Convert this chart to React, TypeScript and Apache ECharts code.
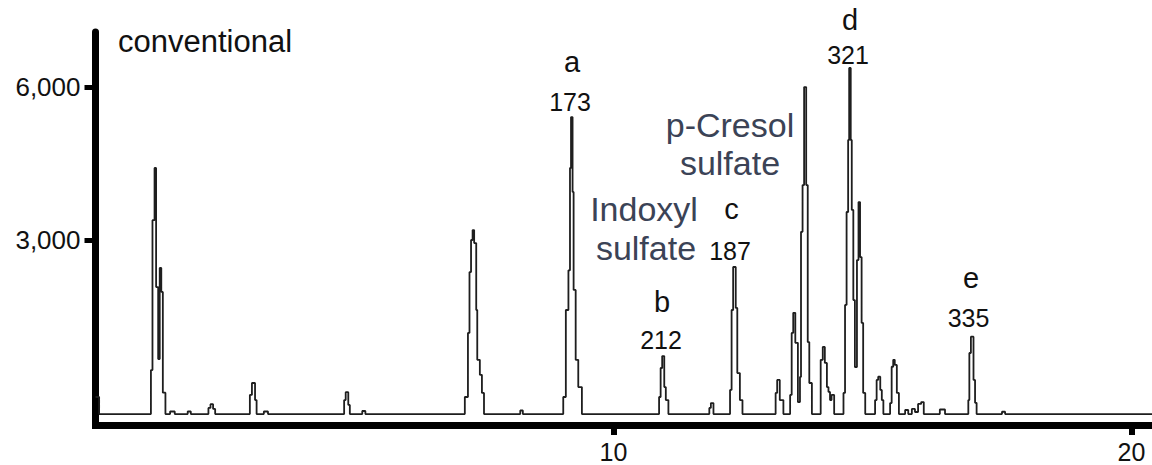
import React, { useEffect, useRef } from "react";
import * as echarts from "echarts";

// Retention time (min) and detector signal
const retentionTime = [
  0.0, 0.07, 1.07, 1.1, 1.14, 1.17, 1.21, 1.24, 1.27, 1.3, 1.35, 1.44, 1.53, 1.78, 1.84,
  2.18, 2.22, 2.27, 2.31, 2.98, 3.02, 3.08, 3.11, 3.25, 3.33, 4.8, 4.83, 4.88, 4.91, 5.15, 5.21,
  7.13, 7.19, 7.22, 7.25, 7.28, 7.31, 7.35, 7.37, 7.42, 7.46, 7.5, 8.2, 8.25,
  9.03, 9.08, 9.13, 9.16, 9.18, 9.21, 9.23, 9.27, 9.32, 9.39,
  10.88, 10.91, 10.94, 10.98, 11.01, 11.06, 11.85, 11.88, 11.93,
  12.25, 12.28, 12.31, 12.36, 12.39, 12.44, 12.49,
  13.13, 13.16, 13.21, 13.28, 13.41, 13.44, 13.47, 13.51, 13.56,
  13.6, 13.62, 13.65, 13.68, 13.72, 13.75, 13.78, 13.83,
  14.0, 14.04, 14.08, 14.12, 14.15, 14.18, 14.21, 14.26,
  14.44, 14.47, 14.5, 14.53, 14.55, 14.58, 14.6, 14.63, 14.66, 14.7, 14.73, 14.76, 14.79, 14.82, 14.86,
  15.05, 15.08, 15.11, 15.15, 15.18, 15.21, 15.34, 15.37, 15.4, 15.43, 15.47, 15.51,
  15.63, 15.69, 15.76, 15.82, 15.88, 15.94, 15.99, 16.3, 16.4,
  16.85, 16.87, 16.9, 16.95, 16.98, 17.01, 17.5, 17.56, 20.4,
];
const signal = [
  -85, -420, 445, 3390, 4415, 2075, 660, 2450, 1980, 0, -420, -370, -420, -370, -420,
  -300, -225, -320, -420, -45, 190, -145, -420, -370, -420, -145, 10, -240, -420, -360, -420,
  -85, 1175, 2370, 3000, 3195, 2940, 1625, 645, 350, -5, -420, -350, -420,
  -85, 1625, 2405, 4415, 5415, 3945, 2020, 645, 110, -420,
  -85, 485, 720, 110, -145, -420, -300, -205, -420,
  55, 1625, 2470, 1665, 385, -145, -420,
  -5, 250, -145, -420, -45, 1175, 1570, 980, -185,
  310, 3160, 4080, 6005, 4080, 995, 190, -420,
  645, 900, 585, 110, 15, -145, -45, -420,
  -5, 1725, 3550, 4965, 6380, 4965, 3590, 1820, 505, 2605, 3745, 2665, 1370, -5, -420,
  -145, 250, 315, 55, -145, -420, -205, 510, 645, 545, -5, -420,
  -340, -420, -320, -380, -220, -185, -420, -330, -420,
  -145, 780, 1100, 250, -200, -420, -375, -420, -420,
];

const xTickValues = [10, 20];
const yTickValues = [3000, 6000];
const panelTitle = "conventional";
const peakLetters = ["a", "b", "c", "d", "e"];
const peakMasses = ["173", "212", "187", "321", "335"];
const indoxylLines = ["Indoxyl", "sulfate"];
const cresolLines = ["p-Cresol", "sulfate"];

const FONT = "'Liberation Sans', Arial, Helvetica, sans-serif";

export default function App() {
  const ref = useRef<HTMLDivElement>(null);

  useEffect(() => {
    if (!ref.current) return;
    const chart = echarts.init(ref.current, null, { renderer: "svg" });
    const data = retentionTime.map((t, i) => [t, signal[i]]);

    const txt = (text: string, x: number, y: number, fontSize: number, fill: string, align = "center") => ({
      type: "text",
      x,
      y,
      silent: true,
      style: {
        text,
        fontSize,
        fontFamily: FONT,
        fill,
        align,
        verticalAlign: "middle",
        textAlign: align,
        textVerticalAlign: "middle",
      },
    });

    const letterPos = [
      [572, 61.7],
      [662, 301.6],
      [731.5, 209.1],
      [850, 20],
      [971, 278.3],
    ];
    const massPos = [
      [570, 102],
      [661, 339.7],
      [730, 251.1],
      [848, 54.7],
      [968.5, 318],
    ];
    const black = "#111111";
    const blueGray = "#3b4356";

    const graphics: any[] = [txt(panelTitle, 118, 41.6, 31, black, "left")];
    peakLetters.forEach((l, i) => graphics.push(txt(l, letterPos[i][0], letterPos[i][1], 29, black)));
    peakMasses.forEach((m, i) => graphics.push(txt(m, massPos[i][0], massPos[i][1], 25, black)));
    graphics.push(txt(indoxylLines[0], 644, 209.2, 34, blueGray));
    graphics.push(txt(indoxylLines[1], 646, 247.7, 34, blueGray));
    graphics.push(txt(cresolLines[0], 730, 124.9, 34, blueGray));
    graphics.push(txt(cresolLines[1], 730, 163.2, 34, blueGray));

    chart.setOption({
      animation: false,
      backgroundColor: "#ffffff",
      grid: {
        left: 95.5,
        right: 0,
        top: 32,
        bottom: 40,
        containLabel: false,
        outerBoundsMode: "none",
      },
      xAxis: {
        type: "value",
        min: 0,
        max: 20.396,
        axisLine: { show: true, onZero: false, lineStyle: { color: "#000", width: 7, cap: "square" } },
        axisTick: { show: true, customValues: xTickValues, length: 10, lineStyle: { color: "#000", width: 6 } },
        axisLabel: {
          customValues: xTickValues,
          fontSize: 25,
          fontFamily: FONT,
          color: black,
          margin: 14,
        },
        splitLine: { show: false },
      },
      yAxis: {
        type: "value",
        min: -635,
        max: 7087,
        axisLine: { show: true, onZero: false, lineStyle: { color: "#000", width: 7 } },
        axisTick: { show: true, customValues: yTickValues, length: 11, lineStyle: { color: "#000", width: 5 } },
        axisLabel: {
          customValues: yTickValues,
          fontSize: 26,
          fontFamily: FONT,
          color: black,
          margin: 15,
          formatter: (v: number) => v.toLocaleString("en-US"),
        },
        splitLine: { show: false },
      },
      series: [
        {
          type: "line",
          step: "end",
          symbol: "none",
          data,
          lineStyle: { color: "#1e1e1e", width: 1.8 },
          clip: true,
        },
      ],
      graphic: graphics,
    });

    return () => chart.dispose();
  }, []);

  return (
    <div
      ref={ref}
      style={{ position: "fixed", left: 0, top: 0, width: "1152px", height: "465px", background: "#fff" }}
    />
  );
}
